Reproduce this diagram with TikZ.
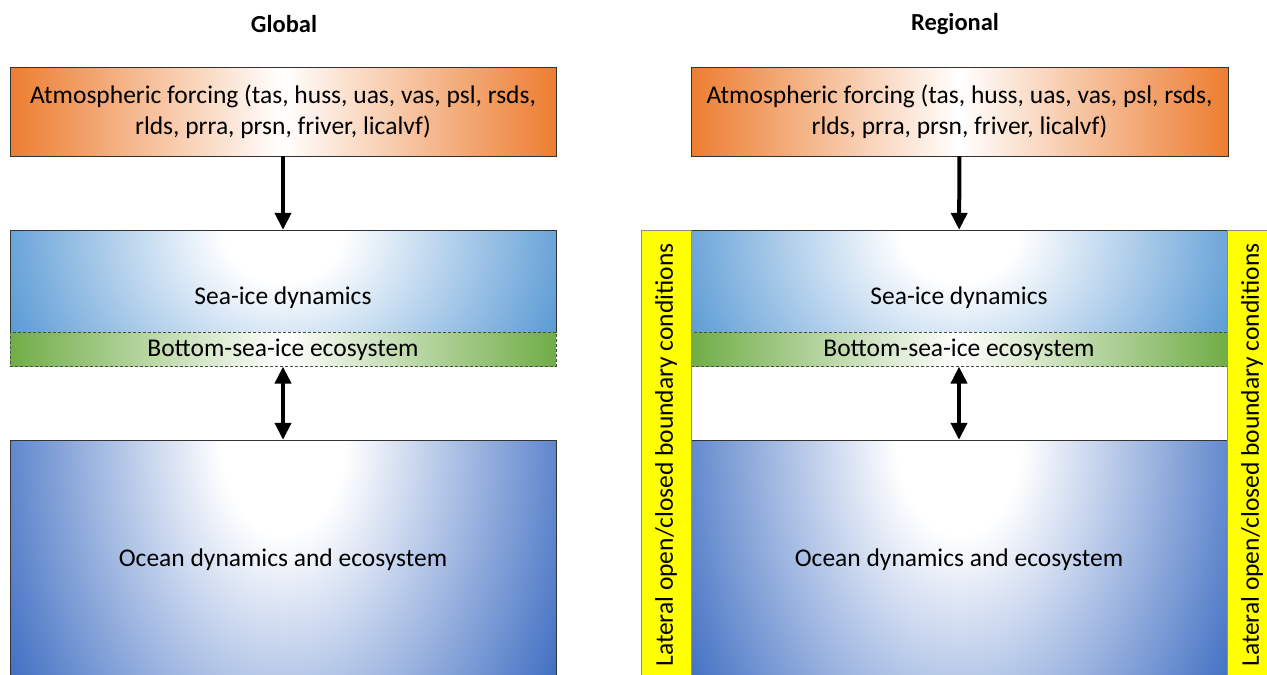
\documentclass[tikz,border=0pt]{standalone}
\usepackage{fontspec}
\setmainfont{Carlito}
\usetikzlibrary{positioning,arrows.meta}

\definecolor{forcing}{HTML}{ED7D31}
\definecolor{seaice}{HTML}{5B9BD5}
\definecolor{ocean}{HTML}{4472C4}
\definecolor{icealgae}{HTML}{70AD47}
\definecolor{lateral}{HTML}{FFFF00}

\pgfdeclareradialshading{iceglow}{\pgfpointorigin}{color(0bp)=(white); color(5bp)=(white); color(25bp)=(seaice); color(50bp)=(seaice)}
\pgfdeclareradialshading{oceanglow}{\pgfpointorigin}{color(0bp)=(white); color(5bp)=(white); color(25bp)=(ocean); color(50bp)=(ocean)}

\begin{document}
\begin{tikzpicture}[x=1pt,y=-1pt,node distance=0pt,
  font=\fontsize{25.5}{31}\selectfont,
  forcebox/.style={draw=black!80, left color=forcing, right color=forcing, middle color=white,
    minimum height=89pt, align=center, inner sep=0pt},
  icebox/.style={draw=black!80, fill=seaice, minimum height=102pt, text height=50pt, text depth=4pt,
    path picture={\shade[shading=iceglow] (path picture bounding box.north) ellipse [x radius=295pt, y radius=260pt];}},
  algaebox/.style={draw=black!70, densely dashed, left color=icealgae, right color=icealgae, middle color=white,
    minimum height=34pt, inner sep=0pt},
  oceanbox/.style={draw=black!80, fill=ocean, minimum height=240pt,
    path picture={\shade[shading=oceanglow] (path picture bounding box.north) ellipse [x radius=310pt, y radius=470pt];}},
  bcbar/.style={draw=black!45, fill=lateral, rotate=90, minimum width=450pt, minimum height=50pt, inner sep=0pt},
  heading/.style={font=\fontsize{24.5}{30}\selectfont\bfseries},
  flow/.style={line width=4pt, -{Triangle[width=16pt,length=17pt]}},
  exchange/.style={line width=4pt, {Triangle[width=16pt,length=17pt]}-{Triangle[width=16pt,length=17pt]}}]
   \useasboundingbox (0,0) rectangle (1267,675);
   \clip (0,0) rectangle (1267,675);

   \node[heading] (titleG) at (284,24) {Global};
   \node[heading] (titleR) at (955,24) {Regional};

   \node[forcebox, minimum width=546pt] (forceG) at (283,111.5) {Atmospheric forcing (tas, huss, uas, vas, psl, rsds,\\ rlds, prra, prsn, friver, licalvf)};
   \node[icebox, minimum width=546pt] (iceG) at (283,281) {Sea-ice dynamics};
   \node[algaebox, minimum width=546pt] (algaeG) [below=of iceG] {Bottom-sea-ice ecosystem};
   \node[oceanbox, minimum width=546pt] (oceanG) at (283,560) {Ocean dynamics and ecosystem};

   \node[forcebox, minimum width=537pt] (forceR) at (959.5,111.5) {Atmospheric forcing (tas, huss, uas, vas, psl, rsds,\\ rlds, prra, prsn, friver, licalvf)};
   \node[icebox, minimum width=536pt] (iceR) at (959,281) {Sea-ice dynamics};
   \node[algaebox, minimum width=536pt] (algaeR) [below=of iceR] {Bottom-sea-ice ecosystem};
   \node[oceanbox, minimum width=536pt] (oceanR) at (959,560) {Ocean dynamics and ecosystem};

   \node[bcbar] (bcL) at (666,455) {Lateral open/closed boundary conditions};
   \node[bcbar] (bcR) at (1252,455) {Lateral open/closed boundary conditions};

   \path[flow] (forceG) edge (iceG);
   \path[exchange] (algaeG) edge (oceanG);

   \path[flow] (forceR) edge (iceR);
   \path[exchange] (algaeR) edge (oceanR);
\end{tikzpicture}
\end{document}
